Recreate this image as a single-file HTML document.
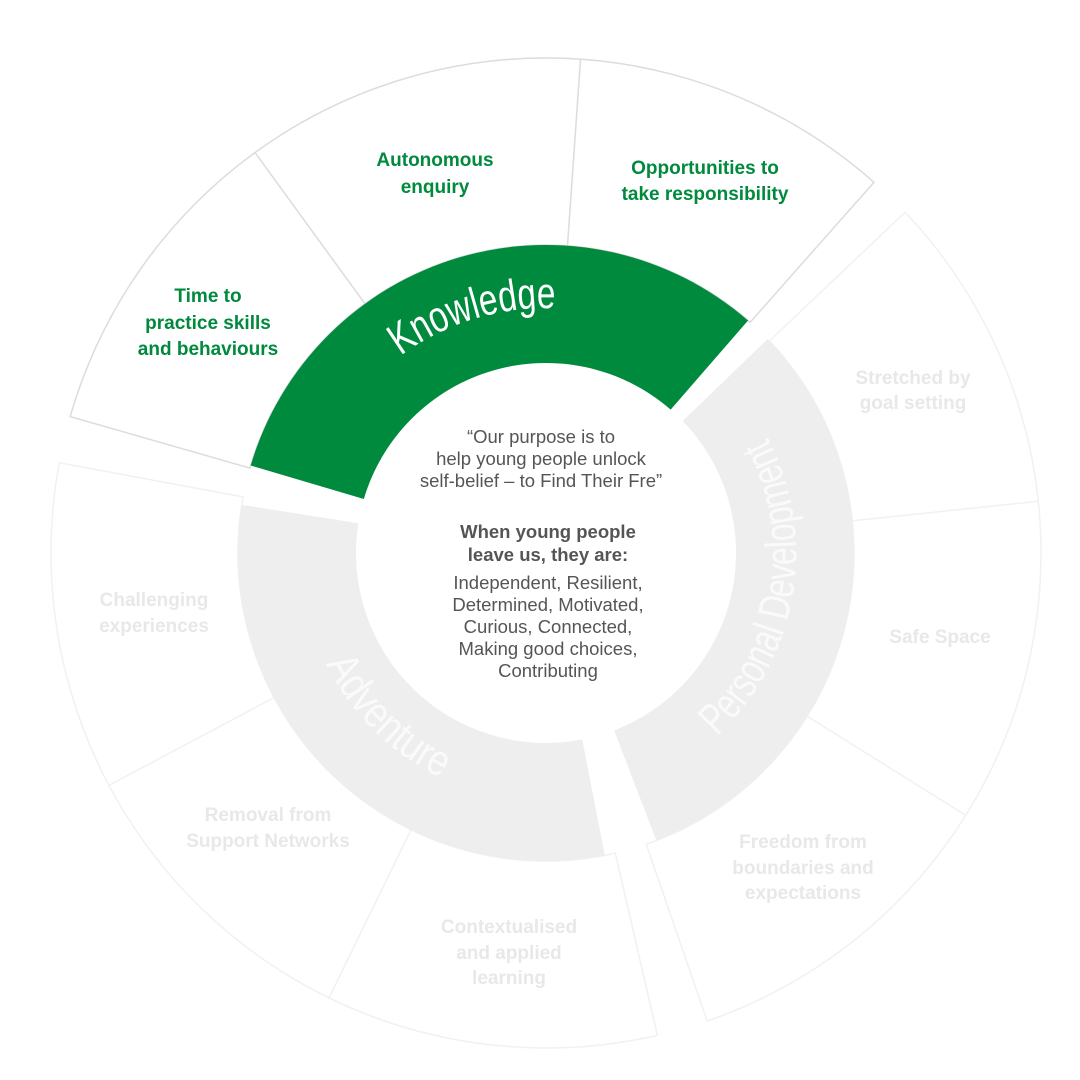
<!DOCTYPE html>
<html><head><meta charset="utf-8"><style>
html,body{margin:0;padding:0;background:#fff;width:1080px;height:1080px;overflow:hidden}
svg{display:block}
.g{font-family:"Liberation Sans",sans-serif;font-weight:bold;font-size:19px;fill:#008a3e;text-anchor:middle}
.f{font-family:"Liberation Sans",sans-serif;font-weight:bold;font-size:19px;fill:#e8e8e8;text-anchor:middle}
.c{font-family:"Liberation Sans",sans-serif;font-size:18.5px;fill:#555;text-anchor:middle}
.cb{font-family:"Liberation Sans",sans-serif;font-size:18.5px;fill:#555;text-anchor:middle;font-weight:bold}
.arc{font-family:"Liberation Sans Narrow","Liberation Sans",sans-serif;font-size:44px}
</style></head><body>
<svg id="s" width="1080" height="1080" viewBox="0 0 1080 1080" xmlns="http://www.w3.org/2000/svg">
<g id="shapes"></g>
<defs>
<path id="pk" d="M 301 553 A 245 245 0 0 1 791 553"/>
<path id="pp" d="M 673 769 A 250 250 0 0 0 737 392"/>
<path id="pa" d="M 306 500 A 250 250 0 0 0 560 803"/>
</defs>
<text class="arc" fill="#fff"><textPath href="#pk" startOffset="40.5%" text-anchor="middle" textLength="165" lengthAdjust="spacingAndGlyphs">Knowledge</textPath></text>
<text class="arc" fill="#fafafa"><textPath href="#pp" startOffset="50%" text-anchor="middle" textLength="325" lengthAdjust="spacingAndGlyphs">Personal Development</textPath></text>
<text class="arc" fill="#fafafa"><textPath href="#pa" startOffset="55%" text-anchor="middle" textLength="165" lengthAdjust="spacingAndGlyphs">Adventure</textPath></text>

<text class="g" x="435" y="166">Autonomous</text><text class="g" x="435" y="193">enquiry</text>
<text class="g" x="705" y="174">Opportunities to</text><text class="g" x="705" y="200">take responsibility</text>
<text class="g" x="208" y="302">Time to</text><text class="g" x="208" y="329">practice skills</text><text class="g" x="208" y="355">and behaviours</text>

<text class="f" x="913" y="384">Stretched by</text><text class="f" x="913" y="409">goal setting</text>
<text class="f" x="940" y="643">Safe Space</text>
<text class="f" x="803" y="848">Freedom from</text><text class="f" x="803" y="874">boundaries and</text><text class="f" x="803" y="899">expectations</text>
<text class="f" x="509" y="933">Contextualised</text><text class="f" x="509" y="959">and applied</text><text class="f" x="509" y="984">learning</text>
<text class="f" x="268" y="821">Removal from</text><text class="f" x="268" y="847">Support Networks</text>
<text class="f" x="154" y="606">Challenging</text><text class="f" x="154" y="632">experiences</text>

<text class="c" x="541" y="443">“Our purpose is to</text>
<text class="c" x="541" y="465">help young people unlock</text>
<text class="c" x="541" y="487">self-belief – to Find Their Fre”</text>
<text class="cb" x="548" y="538">When young people</text>
<text class="cb" x="548" y="561">leave us, they are:</text>
<text class="c" x="548" y="589">Independent, Resilient,</text>
<text class="c" x="548" y="611">Determined, Motivated,</text>
<text class="c" x="548" y="633">Curious, Connected,</text>
<text class="c" x="548" y="655">Making good choices,</text>
<text class="c" x="548" y="677">Contributing</text>
</svg>
<script>
var cx=546,cy=553,NS="http://www.w3.org/2000/svg";
function P(a,r){var t=a*Math.PI/180;return [cx+r*Math.cos(t),cy+r*Math.sin(t)];}
function sec(a1,a2,r1,r2){if(a2<a1)a2+=360;var L=(a2-a1)>180?1:0;
var p1=P(a1,r2),p2=P(a2,r2),p3=P(a2,r1),p4=P(a1,r1);
return "M"+p1+"A"+r2+","+r2+" 0 "+L+" 1 "+p2+"L"+p3+"A"+r1+","+r1+" 0 "+L+" 0 "+p4+"Z";}
function add(d,fill,stroke,sw){var e=document.createElementNS(NS,"path");e.setAttribute("d",d);e.setAttribute("fill",fill);
e.setAttribute("stroke",stroke||"none");e.setAttribute("stroke-width",sw||0);document.getElementById("shapes").appendChild(e);}
function line(a,r1,r2,c){var p=P(a,r1),q=P(a,r2);add("M"+p+"L"+q,"none",c,1.5);}
add(sec(196,311.5,308,495),"#fff","#dcdcdc",1.5);
add(sec(316.5,71,308,495),"#fff","#f1f1f1",1.5);
add(sec(77,190.5,308,495),"#fff","#f1f1f1",1.5);
line(234,308,495,"#dcdcdc");line(274,308,495,"#dcdcdc");
line(354,308,495,"#f1f1f1");line(32,308,495,"#f1f1f1");
line(152,308,495,"#f1f1f1");line(116,308,495,"#f1f1f1");
add(sec(196.5,311,190,308),"#008a3e");
add(sec(316,69,190,308),"#eeeeee");
add(sec(79,189,190,308),"#eeeeee");
</script>
</body></html>
